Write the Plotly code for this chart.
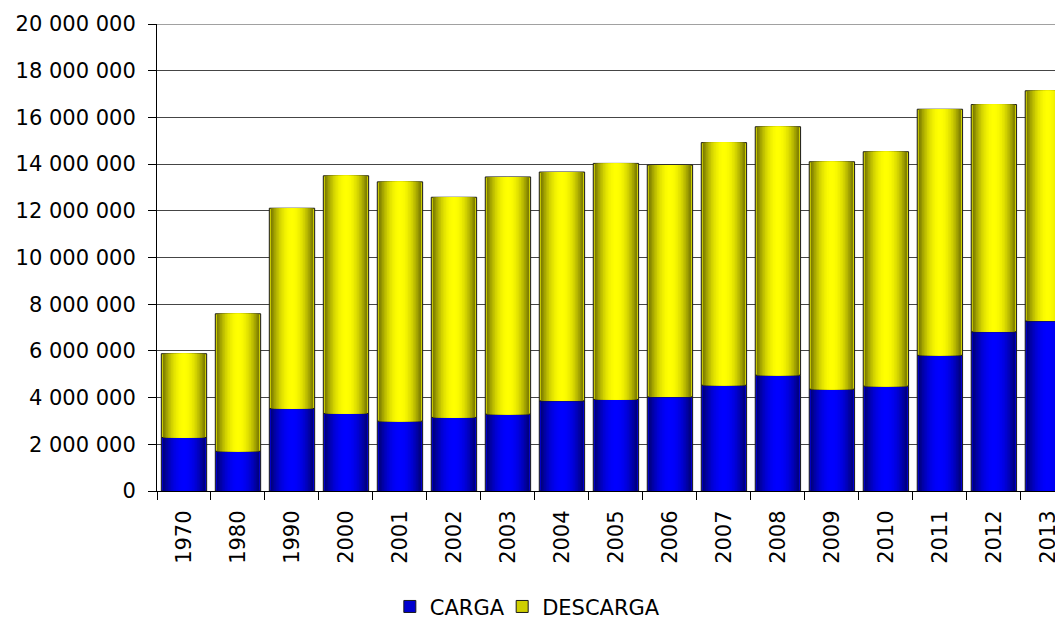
import plotly.graph_objects as go

years = ["1970", "1980", "1990", "2000", "2001", "2002", "2003", "2004", "2005",
         "2006", "2007", "2008", "2009", "2010", "2011", "2012", "2013"]
carga = [2290000, 1700000, 3530000, 3320000, 2990000, 3150000, 3290000, 3860000, 3920000,
         4030000, 4530000, 4960000, 4360000, 4490000, 5810000, 6820000, 7280000]
descarga = [3590000, 5890000, 8580000, 10180000, 10250000, 9430000, 10160000, 9800000, 10110000,
            9930000, 10390000, 10640000, 9740000, 10040000, 10540000, 9730000, 9860000]

y_ticks = [0, 2000000, 4000000, 6000000, 8000000, 10000000, 12000000, 14000000,
           16000000, 18000000, 20000000]

FONT = "DejaVu Sans"
BAR_W = 0.84
N = 14


def shade(dark, bright, t):
    g = 1 - t ** 2
    return "rgb(%d,%d,%d)" % tuple(round(d + (b - d) * g) for d, b in zip(dark, bright))


fig = go.Figure()

series = [
    ("CARGA", carga, None, (0, 0, 95), (0, 0, 255), "legend"),
    ("DESCARGA", descarga, carga, (95, 95, 0), (255, 255, 0), "legend2"),
]

for name, vals, base, dark, bright, leg in series:
    for k in range(N):
        w = BAR_W * (1 - k / N)
        t = 1 - (k + 0.5) / N
        col = shade(dark, bright, t) if k > 0 else shade(dark, bright, 0.55)
        fig.add_trace(go.Bar(
            x=years, y=vals, base=base, width=w,
            name=name,
            legend=leg,
            legendgroup=name,
            showlegend=(k == 0),
            marker=dict(color=col,
                        line=dict(color="#1a1a1a", width=1 if k == 0 else 0)),
            hoverinfo="skip",
        ))

fig.add_shape(type="line", xref="paper", x0=0, x1=1, yref="y", y0=20000000, y1=20000000,
              line=dict(color="#454545", width=1), layer="below")

legend_style = dict(
    orientation="h", xanchor="left", y=-0.248, yanchor="middle",
    font=dict(family=FONT, size=21, color="#000000"),
    itemwidth=30, bgcolor="rgba(0,0,0,0)",
    entrywidth=150, entrywidthmode="pixels",
)

# page body has an 8px default margin, so the figure is 8px smaller than the window
fig.update_layout(
    barmode="overlay",
    width=1055, height=609,
    margin=dict(l=149, r=0, t=16, b=126, autoexpand=False),
    paper_bgcolor="white", plot_bgcolor="white",
    separators=", ",
    font=dict(family=FONT, size=21, color="#000000"),
    showlegend=True,
    legend=dict(x=0.257, **legend_style),
    legend2=dict(x=0.381, **legend_style),
    xaxis=dict(
        type="category", range=[-0.5, 16.28], automargin=False,
        showline=True, linecolor="#000000", linewidth=1,
        ticks="outside", tickson="boundaries", ticklen=8, tickcolor="#000000",
        tickangle=-90, showgrid=False, ticklabelstandoff=10,
        tickfont=dict(family=FONT, size=21, color="#000000"),
    ),
    yaxis=dict(
        range=[0, 20000000], tickvals=y_ticks, tickformat=",d", automargin=False,
        showline=True, linecolor="#000000", linewidth=1,
        ticks="outside", ticklen=8, tickcolor="#000000",
        showgrid=True, gridcolor="#454545", gridwidth=1,
        zeroline=False, ticklabelstandoff=8,
        tickfont=dict(family=FONT, size=21, color="#000000"),
    ),
)

fig.write_html("out.html")
